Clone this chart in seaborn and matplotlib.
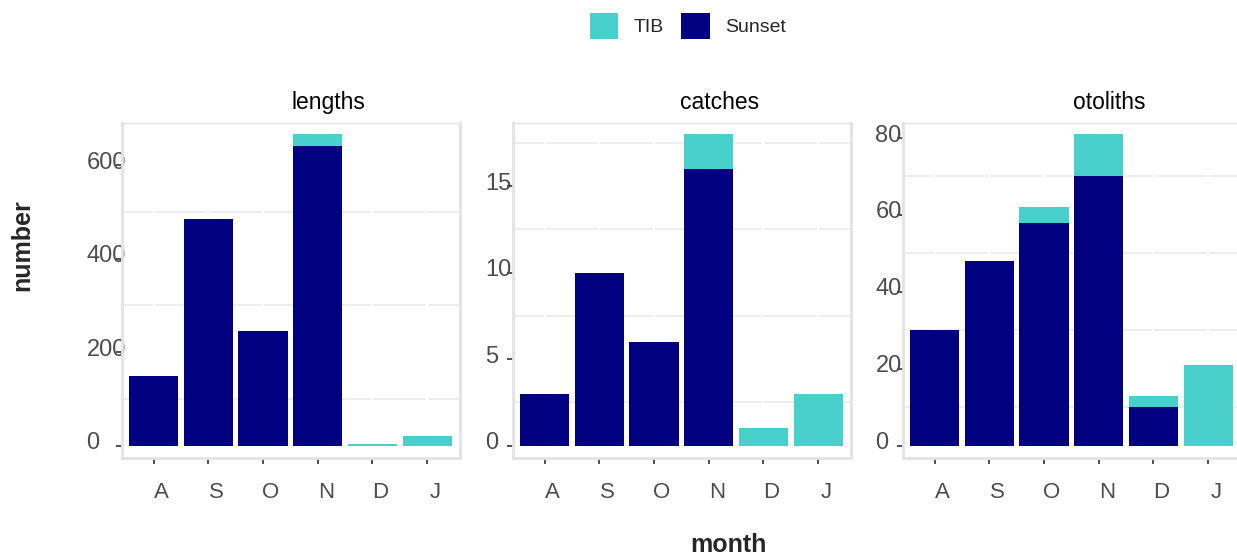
import matplotlib

matplotlib.use("Agg")

import matplotlib.pyplot as plt
import matplotlib.transforms as mtransforms
import pandas as pd
import seaborn as sns
from matplotlib.patches import Patch


# -------------------------------------------------
# Data
# -------------------------------------------------

months = ["A", "S", "O", "N", "D", "J"]

panel_names = ["lengths", "catches", "otoliths"]

lengths_sunset = [148, 484, 246, 640, 0, 0]
lengths_tib = [0, 0, 0, 26, 3, 20]

catches_sunset = [3, 10, 6, 16, 0, 0]
catches_tib = [0, 0, 0, 2, 1, 3]

otoliths_sunset = [30, 48, 58, 70, 10, 0]
otoliths_tib = [0, 0, 4, 11, 3, 21]

major_ticks = {
    "lengths": [0, 200, 400, 600],
    "catches": [0, 5, 10, 15],
    "otoliths": [0, 20, 40, 60, 80],
}

minor_ticks = {
    "lengths": [100, 300, 500],
    "catches": [2.5, 7.5, 12.5, 17.5],
    "otoliths": [10, 30, 50, 70],
}

TIB_COLOR = "#48D1CC"
SUNSET_COLOR = "#000080"
BORDER_COLOR = "#e3e3e3"
TEXT_GRAY = "#4d4d4d"


def build_frame(sunset, tib):
    """
    Long table with Sunset, TIB and the stacked total.
    """

    frame = pd.DataFrame(
        {
            "month": months,
            "Sunset": sunset,
            "TIB": tib,
        }
    )

    frame["total"] = frame["Sunset"] + frame["TIB"]

    return frame


frames = {
    "lengths": build_frame(lengths_sunset, lengths_tib),
    "catches": build_frame(catches_sunset, catches_tib),
    "otoliths": build_frame(otoliths_sunset, otoliths_tib),
}


# -------------------------------------------------
# Figure setup
# -------------------------------------------------

sns.set_style("white")

plt.rcParams["font.family"] = ["Liberation Sans", "DejaVu Sans"]

fig = plt.figure(figsize=(12.37, 5.58), dpi=100)

W, H = 1237, 558

panel_lefts = [122, 513, 903]
panel_top = 122.7
panel_bottom = 458
panel_width = 338

label_starts = [34, 26, 26]


for index, name in enumerate(panel_names):

    ax = fig.add_axes(
        [
            panel_lefts[index] / W,
            1 - panel_bottom / H,
            panel_width / W,
            (panel_bottom - panel_top) / H,
        ]
    )

    frame = frames[name]

    # stacked bars: total in TIB colour, Sunset drawn over it
    sns.barplot(
        data=frame,
        x="month",
        y="total",
        order=months,
        color=TIB_COLOR,
        saturation=1,
        width=0.9,
        linewidth=0,
        ax=ax,
    )

    sns.barplot(
        data=frame,
        x="month",
        y="Sunset",
        order=months,
        color=SUNSET_COLOR,
        saturation=1,
        width=0.9,
        linewidth=0,
        ax=ax,
    )

    top = frame["total"].max()

    ax.set_ylim(-0.04 * top, 1.037 * top)
    ax.set_xlim(-0.58, 5.6)

    ax.set_yticks(major_ticks[name])
    ax.set_yticks(minor_ticks[name], minor=True)

    ax.set_xlabel("")
    ax.set_ylabel("")

    # grid: grey minor horizontals, white verticals on top
    ax.grid(False)

    ax.yaxis.grid(
        True,
        which="minor",
        color="#ebebeb",
        linewidth=1.2,
    )

    ax.xaxis.grid(
        True,
        which="major",
        color="white",
        linewidth=1.5,
    )

    ax.set_axisbelow(True)
    ax.yaxis.set_zorder(0.4)

    # panel border
    for side, spine in ax.spines.items():
        spine.set_visible(True)
        spine.set_color(BORDER_COLOR)
        spine.set_linewidth(1.0 if side == "top" else 2.0)

    # ticks
    ax.tick_params(
        axis="x",
        which="major",
        bottom=True,
        length=4,
        width=1.2,
        color="#333333",
        labelsize=16,
        labelcolor=TEXT_GRAY,
        pad=13,
    )

    ax.tick_params(
        axis="y",
        which="major",
        left=True,
        length=4,
        width=1.2,
        color="#333333",
        labelsize=17,
        labelcolor=TEXT_GRAY,
        pad=label_starts[index] * 0.72 - 2.9,
    )

    ax.tick_params(
        axis="y",
        which="minor",
        left=False,
        length=0,
    )

    x_shift = mtransforms.ScaledTranslation(
        8 / 100, 0, fig.dpi_scale_trans
    )

    for label in ax.get_xticklabels():
        label.set_transform(label.get_transform() + x_shift)

    y_shift = mtransforms.ScaledTranslation(
        0, 5 / 100, fig.dpi_scale_trans
    )

    for label in ax.get_yticklabels():
        label.set_horizontalalignment("left")
        label.set_transform(label.get_transform() + y_shift)

    # facet title
    ax.text(
        0.61,
        1.06,
        name,
        transform=ax.transAxes,
        ha="center",
        va="center",
        fontsize=16.5,
        color="black",
    )


# -------------------------------------------------
# Axis titles and legend
# -------------------------------------------------

fig.text(
    22 / W,
    1 - 245 / H,
    "number",
    rotation=90,
    ha="center",
    va="center",
    fontsize=18,
    fontweight="bold",
)

fig.text(
    728 / W,
    1 - 545 / H,
    "month",
    ha="center",
    va="center",
    fontsize=18,
    fontweight="bold",
)

fig.legend(
    handles=[
        Patch(color=TIB_COLOR, linewidth=0),
        Patch(color=SUNSET_COLOR, linewidth=0),
    ],
    labels=["TIB", "Sunset"],
    loc="center",
    bbox_to_anchor=(688 / W, 1 - 26 / H),
    ncol=2,
    frameon=False,
    fontsize=14,
    handlelength=1.45,
    handleheight=1.75,
    handletextpad=0.8,
    columnspacing=0.9,
)

fig.savefig("out.png", dpi=100)
plt.close(fig)
